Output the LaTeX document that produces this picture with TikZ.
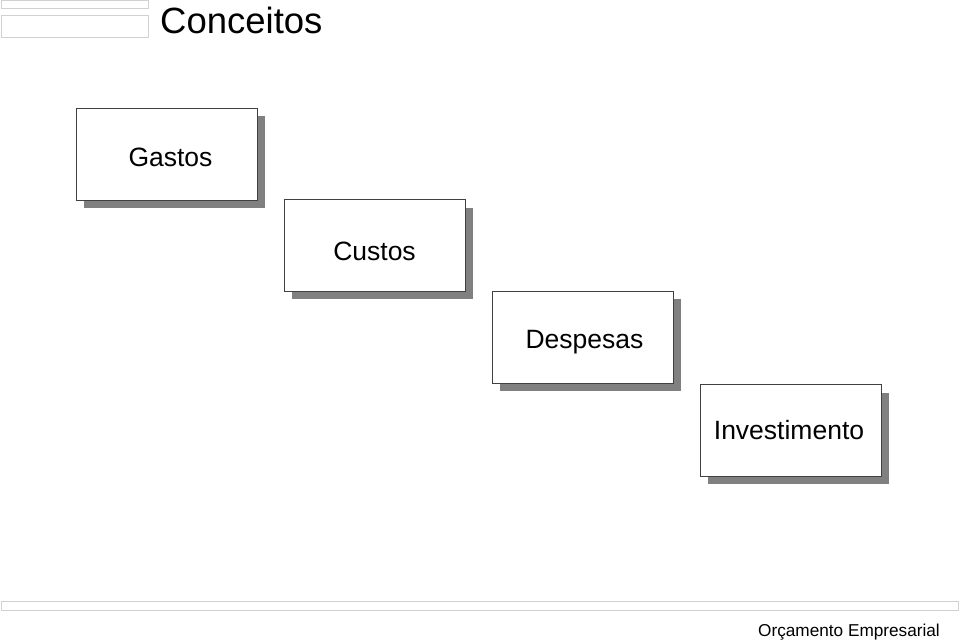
\documentclass[tikz,border=0pt]{standalone}
\usepackage{fontspec}
\setmainfont{Liberation Sans}
\begin{document}
\begin{tikzpicture}[x=1pt,y=-1pt,
  bar/.style={draw=black!18,line width=0.8pt,fill=white},
  conc/.style={draw=black!75,line width=0.9pt,fill=white,minimum width=181pt,minimum height=92pt,inner sep=0pt},
  conctext/.style={anchor=base,inner sep=0pt,font=\fontsize{26.5}{30}\selectfont},
  shadowbox/.style={fill=black!50,draw=none}]
\useasboundingbox (0,0) rectangle (960,641);
% header bars
\draw[bar] (1,0.5) rectangle (148,8);
\draw[bar] (1,15) rectangle (148,37);
\node[anchor=base west,inner sep=0pt,font=\fontsize{36.5}{40}\selectfont] (title) at (160,33) {Conceitos};
% boxes with shadows
\fill[shadowbox] (84,116) rectangle (265,208);
\node[conc] (gastos) at (166.5,154) {};
\node[conctext] (gastostxt) at (170.5,166) {Gastos};
\fill[shadowbox] (292,208) rectangle (473,299);
\node[conc] (custos) at (374.5,245.5) {};
\node[conctext] (custostxt) at (374.5,260) {Custos};
\fill[shadowbox] (500,299) rectangle (681,391);
\node[conc] (despesas) at (582.5,337) {};
\node[conctext] (despesastxt) at (584.5,348.7) {Despesas};
\fill[shadowbox] (708,393) rectangle (889,484);
\node[conc] (invest) at (790.5,430.5) {};
\node[conctext] (investtxt) at (789,439) {Investimento};
% footer
\draw[bar] (1,601) rectangle (958,610);
\node[anchor=base east,inner sep=0pt,font=\fontsize{17.2}{20}\selectfont] (footer) at (940,636) {Orçamento Empresarial};
\end{tikzpicture}
\end{document}
